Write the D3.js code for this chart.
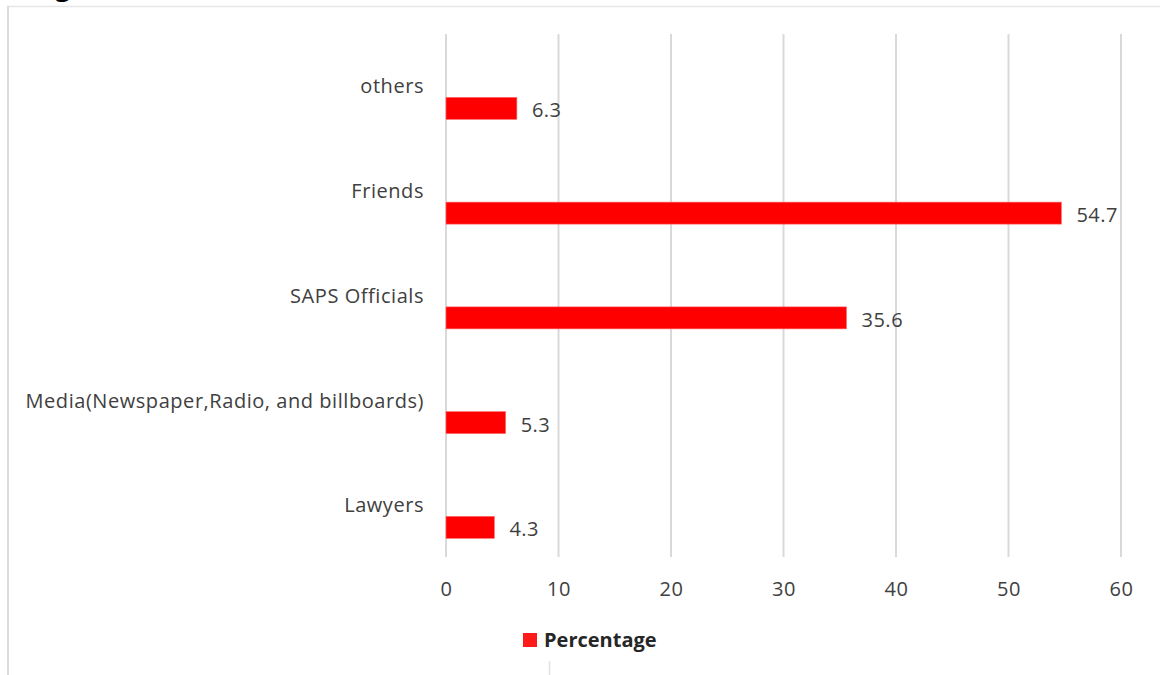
<!DOCTYPE html>
<html>
<head>
<meta charset="utf-8">
<script src="https://cdn.jsdelivr.net/npm/d3@7"></script>
<style>
  html, body { margin: 0; padding: 0; background: #fff; }
  svg { display: block; }
  text { font-family: "Open Sans", sans-serif; fill: #404040; }
</style>
</head>
<body>
<svg id="chart" width="1160" height="675"></svg>
<script>
// Sources of information, percentage of respondents
const categories = ["others", "Friends", "SAPS Officials", "Media(Newspaper,Radio, and billboards)", "Lawyers"];
const percentages = [6.3, 54.7, 35.6, 5.3, 4.3];
const tickValues = [0, 10, 20, 30, 40, 50, 60];
const seriesName = "Percentage";

const svg = d3.select("#chart");
const barColor = "#ff0000";
const fontSize = "20px";

// outer frame lines
svg.append("line").attr("x1", 7).attr("x2", 1160).attr("y1", 6.5).attr("y2", 6.5)
  .attr("stroke", "#e6e6e6").attr("stroke-width", 1.5);
svg.append("line").attr("x1", 8).attr("x2", 8).attr("y1", 6).attr("y2", 675)
  .attr("stroke", "#dcdcdc").attr("stroke-width", 2);

// caption running off the top edge
svg.append("text").attr("x", 33).attr("y", -4)
  .style("font-weight", "bold").style("font-size", "26px").style("fill", "#000")
  .text("Fig");

const x = d3.scaleLinear().domain([0, 60]).range([446, 1121]);
const y = d3.scaleBand().domain(categories).range([56, 579.75])
  .paddingInner(0.79).paddingOuter(0.395);

const gridTop = 34, gridBottom = 557;

// vertical gridlines
svg.append("g").selectAll("line").data(tickValues).join("line")
  .attr("x1", d => x(d)).attr("x2", d => x(d))
  .attr("y1", gridTop).attr("y2", gridBottom)
  .attr("stroke", "#d9d9d9").attr("stroke-width", 2);

// x axis labels
const axis = d3.axisBottom(x).tickValues(tickValues).tickSize(0).tickPadding(0);
const ax = svg.append("g").attr("transform", `translate(0, ${gridBottom})`).call(axis);
ax.select(".domain").remove();
ax.selectAll("text").attr("y", 32).attr("dy", "0.35em")
  .style("font-size", fontSize).style("fill", "#404040")
  .style("letter-spacing", "0.5px")
  .style("font-family", "'Open Sans', sans-serif");

// bars
svg.append("g").selectAll("rect").data(categories).join("rect")
  .attr("x", x(0))
  .attr("y", d => y(d))
  .attr("width", (d, i) => x(percentages[i]) - x(0))
  .attr("height", y.bandwidth())
  .attr("fill", barColor)
  .attr("stroke", "#ff6a6a").attr("stroke-width", 0.6);

// category labels above each bar
svg.append("g").selectAll("text").data(categories).join("text")
  .attr("x", 424)
  .attr("y", d => y(d) + y.bandwidth() / 2 - 22)
  .attr("dy", "0.35em")
  .attr("text-anchor", "end")
  .style("font-size", fontSize)
  .style("letter-spacing", "0.55px")
  .text(d => d);

// value labels
svg.append("g").selectAll("text").data(categories).join("text")
  .attr("x", (d, i) => x(percentages[i]) + 15)
  .attr("y", d => y(d) + y.bandwidth() / 2 + 2)
  .attr("dy", "0.35em")
  .style("font-size", fontSize)
  .style("letter-spacing", "0.5px")
  .text((d, i) => percentages[i].toFixed(1));

// legend
const lg = svg.append("g").attr("transform", "translate(523, 633)");
lg.append("rect").attr("width", 14).attr("height", 14).attr("fill", "#ff1a1a");
lg.append("text").attr("x", 21).attr("y", 7).attr("dy", "0.35em")
  .style("font-size", fontSize).style("font-weight", "bold").style("fill", "#262626")
  .text(seriesName);

// small mark under the legend
svg.append("line").attr("x1", 549.5).attr("x2", 549.5).attr("y1", 661).attr("y2", 675)
  .attr("stroke", "#e2e2e2").attr("stroke-width", 1.5);
</script>
</body>
</html>
